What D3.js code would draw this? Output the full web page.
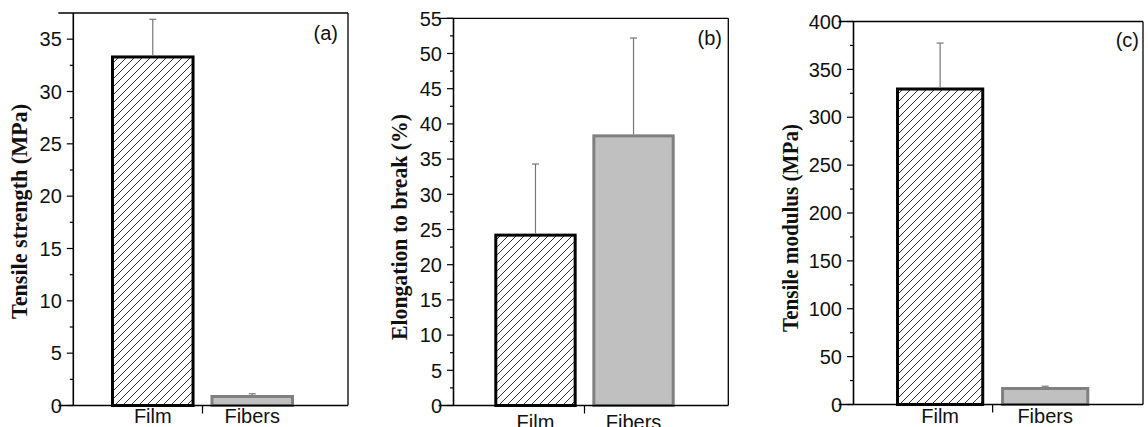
<!DOCTYPE html>
<html>
<head>
<meta charset="utf-8">
<script src="https://cdn.jsdelivr.net/npm/d3@7"></script>
<style>
  body { margin: 0; background: #fff; }
  svg { display: block; }
  .tick-label { font-family: "Liberation Sans", Arial, sans-serif; font-size: 20px; fill: #111; }
  .axis-title { font-family: "Liberation Serif", "Times New Roman", serif; font-size: 24px; font-weight: bold; fill: #111; }
</style>
</head>
<body>
<div id="chart"></div>
<script>
// data
var categories = ["Film", "Fibers"];

var strengthMean = [33.3, 0.86];
var strengthErr = [3.6, 0.26];
var strengthTicks = [0, 5, 10, 15, 20, 25, 30, 35];

var elongationMean = [24.2, 38.3];
var elongationErr = [10.1, 13.9];
var elongationTicks = [0, 5, 10, 15, 20, 25, 30, 35, 40, 45, 50, 55];

var modulusMean = [329.5, 16.7];
var modulusErr = [48, 2.4];
var modulusTicks = [0, 50, 100, 150, 200, 250, 300, 350, 400];

var panelLetters = ["(a)", "(b)", "(c)"];
var axisTitles = ["Tensile strength (MPa)", "Elongation to break (%)", "Tensile modulus (MPa)"];

var svg = d3.select("#chart").append("svg")
    .attr("width", 1148)
    .attr("height", 427);

// hatch for the film bars
var defs = svg.append("defs");
var hatch = defs.append("pattern")
    .attr("id", "hatch")
    .attr("patternUnits", "userSpaceOnUse")
    .attr("width", 8)
    .attr("height", 8);
hatch.append("rect").attr("width", 8).attr("height", 8).attr("fill", "#fff");
hatch.append("path")
    .attr("d", "M-2,2 l4,-4 M0,8 l8,-8 M6,10 l4,-4")
    .attr("stroke", "#333")
    .attr("stroke-width", 1);

// one panel
function barPanel(opt) {
    var y = d3.scaleLinear()
        .domain(opt.domain)
        .range([opt.bottom, opt.top]);

    var x = d3.scaleBand()
        .domain(categories)
        .range(opt.band)
        .paddingInner(0.16)
        .paddingOuter(0);

    var g = svg.append("g");

    // minor ticks, half a step between the labelled ones
    var step = opt.ticks[1] - opt.ticks[0];
    var minor = [];
    opt.ticks.forEach(function(t) {
        if (t + step / 2 < opt.domain[1]) minor.push(t + step / 2);
    });

    g.selectAll(".minor").data(minor).enter().append("line")
        .attr("x1", opt.left - 3.5).attr("x2", opt.left)
        .attr("y1", function(d) { return y(d); })
        .attr("y2", function(d) { return y(d); })
        .attr("stroke", "#000").attr("stroke-width", 1.2);

    g.selectAll(".major").data(opt.ticks).enter().append("line")
        .attr("x1", opt.left - 6.5).attr("x2", opt.left)
        .attr("y1", function(d) { return y(d); })
        .attr("y2", function(d) { return y(d); })
        .attr("stroke", "#000").attr("stroke-width", 1.2);

    g.selectAll(".tick-label").data(opt.ticks).enter().append("text")
        .attr("class", "tick-label")
        .attr("x", opt.left - 11.5)
        .attr("y", function(d) { return y(d); })
        .attr("dy", "0.36em")
        .attr("text-anchor", "end")
        .text(function(d) { return d; });

    // bars
    g.selectAll(".bar").data(opt.mean).enter().append("rect")
        .attr("x", function(d, i) { return x(categories[i]) + 1.5; })
        .attr("width", x.bandwidth() - 3)
        .attr("y", function(d) { return y(d); })
        .attr("height", function(d) { return y(0) - y(d); })
        .attr("fill", function(d, i) { return i === 0 ? "url(#hatch)" : "#c0c0c0"; })
        .attr("stroke", function(d, i) { return i === 0 ? "#000" : "#808080"; })
        .attr("stroke-width", 3);

    // error bars (upper only)
    var errs = opt.mean.map(function(m, i) { return {m: m, e: opt.err[i], c: categories[i]}; });
    g.selectAll(".err").data(errs).enter().append("line")
        .attr("x1", function(d) { return x(d.c) + x.bandwidth() / 2; })
        .attr("x2", function(d) { return x(d.c) + x.bandwidth() / 2; })
        .attr("y1", function(d) { return y(d.m) - 1.5; })
        .attr("y2", function(d) { return y(d.m + d.e); })
        .attr("stroke", "#777").attr("stroke-width", 1.2);
    g.selectAll(".cap").data(errs).enter().append("line")
        .attr("x1", function(d) { return x(d.c) + x.bandwidth() / 2 - 3.5; })
        .attr("x2", function(d) { return x(d.c) + x.bandwidth() / 2 + 3.5; })
        .attr("y1", function(d) { return y(d.m + d.e); })
        .attr("y2", function(d) { return y(d.m + d.e); })
        .attr("stroke", "#777").attr("stroke-width", 1.2);

    // frame
    g.append("line")
        .attr("x1", opt.left - 15).attr("x2", opt.right)
        .attr("y1", y(opt.domain[1])).attr("y2", y(opt.domain[1]))
        .attr("stroke", "#000").attr("stroke-width", 1.3);
    g.append("line")
        .attr("x1", opt.right).attr("x2", opt.right)
        .attr("y1", y(opt.domain[1])).attr("y2", y(0))
        .attr("stroke", "#000").attr("stroke-width", 1.3);
    g.append("line")
        .attr("x1", opt.left).attr("x2", opt.left)
        .attr("y1", y(opt.domain[1])).attr("y2", y(0))
        .attr("stroke", "#000").attr("stroke-width", 1.6);
    g.append("line")
        .attr("x1", opt.left - 15).attr("x2", opt.right)
        .attr("y1", y(0)).attr("y2", y(0))
        .attr("stroke", "#000").attr("stroke-width", 1.6);

    // separator tick between the categories
    var sep = (x(categories[0]) + x.bandwidth() + x(categories[1])) / 2;
    g.append("line")
        .attr("x1", sep).attr("x2", sep)
        .attr("y1", y(0)).attr("y2", y(0) + 8)
        .attr("stroke", "#000").attr("stroke-width", 1.2);

    g.selectAll(".cat").data(categories).enter().append("text")
        .attr("class", "tick-label")
        .attr("x", function(d) { return x(d) + x.bandwidth() / 2; })
        .attr("y", y(0) + opt.labelGap)
        .attr("text-anchor", "middle")
        .text(function(d) { return d; });

    g.append("text")
        .attr("class", "tick-label")
        .attr("x", opt.letterX)
        .attr("y", opt.letterY)
        .attr("text-anchor", "end")
        .text(opt.letter);

    g.append("text")
        .attr("class", "axis-title")
        .attr("transform", "translate(" + opt.titleX + "," + opt.titleY + ") rotate(-90)")
        .attr("text-anchor", "middle")
        .attr("textLength", opt.titleLen)
        .attr("lengthAdjust", "spacingAndGlyphs")
        .text(opt.title);
}

barPanel({
    mean: strengthMean, err: strengthErr, ticks: strengthTicks, domain: [0, 37.5],
    left: 73.3, right: 348, top: 13, bottom: 405.5, band: [111, 294],
    labelGap: 17.5, letter: panelLetters[0], letterX: 338, letterY: 40,
    title: axisTitles[0], titleX: 27, titleY: 211.5, titleLen: 215
});

barPanel({
    mean: elongationMean, err: elongationErr, ticks: elongationTicks, domain: [0, 55],
    left: 453.5, right: 728.3, top: 18.3, bottom: 405.5, band: [494.3, 674.7],
    labelGap: 23.5, letter: panelLetters[1], letterX: 722, letterY: 45,
    title: axisTitles[1], titleX: 407, titleY: 227, titleLen: 226
});

barPanel({
    mean: modulusMean, err: modulusErr, ticks: modulusTicks, domain: [0, 400],
    left: 853.5, right: 1143, top: 21.5, bottom: 404.5, band: [896, 1089.3],
    labelGap: 18.5, letter: panelLetters[2], letterX: 1139, letterY: 47,
    title: axisTitles[2], titleX: 798, titleY: 228, titleLen: 208
});
</script>
</body>
</html>
